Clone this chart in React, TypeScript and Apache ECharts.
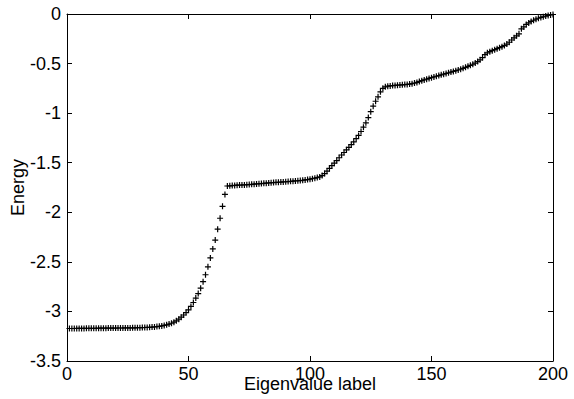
import React, { useEffect, useRef } from "react";
import * as echarts from "echarts";

// Eigenvalue labels 1..200 and the energy
const energy: number[] = [
  -3.172, -3.172, -3.172, -3.171, -3.171, -3.171, -3.171, -3.170, -3.170, -3.170,
  -3.170, -3.170, -3.169, -3.169, -3.169, -3.169, -3.168, -3.168, -3.168, -3.168,
  -3.167, -3.167, -3.167, -3.166, -3.166, -3.166, -3.165, -3.165, -3.164, -3.164,
  -3.163, -3.162, -3.161, -3.160, -3.158, -3.156, -3.153, -3.150, -3.146, -3.141,
  -3.135, -3.128, -3.119, -3.108, -3.095, -3.078, -3.058, -3.036, -3.012, -2.985,
  -2.950, -2.910, -2.865, -2.820, -2.765, -2.700, -2.630, -2.550, -2.460, -2.370,
  -2.280, -2.170, -2.060, -1.940, -1.820, -1.735, -1.733, -1.731, -1.729, -1.727,
  -1.726, -1.725, -1.724, -1.722, -1.720, -1.718, -1.716, -1.714, -1.712, -1.710,
  -1.708, -1.706, -1.704, -1.702, -1.700, -1.698, -1.697, -1.695, -1.694, -1.692,
  -1.690, -1.688, -1.686, -1.684, -1.682, -1.680, -1.677, -1.674, -1.670, -1.666,
  -1.661, -1.656, -1.650, -1.643, -1.630, -1.610, -1.585, -1.558, -1.530, -1.505,
  -1.478, -1.450, -1.422, -1.397, -1.370, -1.345, -1.318, -1.290, -1.258, -1.225,
  -1.185, -1.142, -1.098, -1.045, -0.985, -0.930, -0.880, -0.835, -0.785, -0.750,
  -0.735, -0.728, -0.725, -0.722, -0.720, -0.718, -0.716, -0.714, -0.712, -0.710,
  -0.707, -0.703, -0.697, -0.690, -0.682, -0.673, -0.665, -0.657, -0.650, -0.642,
  -0.635, -0.628, -0.621, -0.614, -0.607, -0.600, -0.593, -0.586, -0.579, -0.572,
  -0.565, -0.557, -0.548, -0.538, -0.528, -0.518, -0.507, -0.495, -0.480, -0.462,
  -0.440, -0.410, -0.392, -0.380, -0.370, -0.360, -0.350, -0.340, -0.330, -0.318,
  -0.303, -0.285, -0.262, -0.240, -0.220, -0.200, -0.150, -0.130, -0.105, -0.090,
  -0.075, -0.063, -0.052, -0.043, -0.035, -0.028, -0.021, -0.015, -0.010, -0.005,
];
const labels: number[] = energy.map((_, i) => i + 1);

const xRange = { min: 0, max: 200, interval: 50 };
const yRange = { min: -3.5, max: 0, interval: 0.5 };
const xTitle = "Eigenvalue label";
const yTitle = "Energy";

const FONT = "Liberation Sans, Arial, sans-serif";
const black = "#000";

export default function App() {
  const ref = useRef<HTMLDivElement>(null);
  useEffect(() => {
    if (!ref.current) return;
    const chart = echarts.init(ref.current, undefined, { renderer: "svg" });
    const axisCommon = {
      axisLine: { show: true, onZero: false, lineStyle: { color: black, width: 1 } },
      axisTick: { show: true, inside: true, length: 5, lineStyle: { color: black, width: 1 } },
      splitLine: { show: false },
    };
    const plus = "path://M2,0h1v2h2v1h-2v2h-1v-2h-2v-1h2z";
    chart.setOption({
      animation: false,
      backgroundColor: "#fff",
      grid: {
        left: 67,
        right: 21,
        top: 14,
        bottom: 38,
        containLabel: false,
        outerBoundsMode: "none",
      },
      xAxis: [
        {
          type: "value",
          ...xRange,
          position: "bottom",
          ...axisCommon,
          axisLabel: { color: black, fontSize: 18, fontFamily: FONT, margin: 4 },
          name: xTitle,
          nameLocation: "middle",
          nameGap: 23,
          nameMoveOverlap: false,
          nameTextStyle: { color: black, fontSize: 18, fontFamily: FONT, verticalAlign: "middle" },
        },
        {
          type: "value",
          ...xRange,
          position: "top",
          ...axisCommon,
          axisLabel: { show: false },
        },
      ],
      yAxis: [
        {
          type: "value",
          ...yRange,
          position: "left",
          ...axisCommon,
          axisLabel: { color: black, fontSize: 18, fontFamily: FONT, margin: 6 },
          name: yTitle,
          nameLocation: "middle",
          nameGap: 49,
          nameRotate: 90,
          nameMoveOverlap: false,
          nameTextStyle: { color: black, fontSize: 18, fontFamily: FONT, verticalAlign: "middle" },
        },
        {
          type: "value",
          ...yRange,
          position: "right",
          ...axisCommon,
          axisLabel: { show: false },
        },
      ],
      series: [
        {
          type: "scatter",
          xAxisIndex: 0,
          yAxisIndex: 0,
          symbol: plus,
          symbolSize: 6,
          itemStyle: { color: black, opacity: 1 },
          data: labels.map((x, i) => [x, energy[i]]),
        },
      ],
    });
    return () => chart.dispose();
  }, []);
  return (
    <div
      ref={ref}
      style={{ position: "fixed", left: 0, top: 0, width: 574, height: 399, background: "#fff" }}
    />
  );
}
